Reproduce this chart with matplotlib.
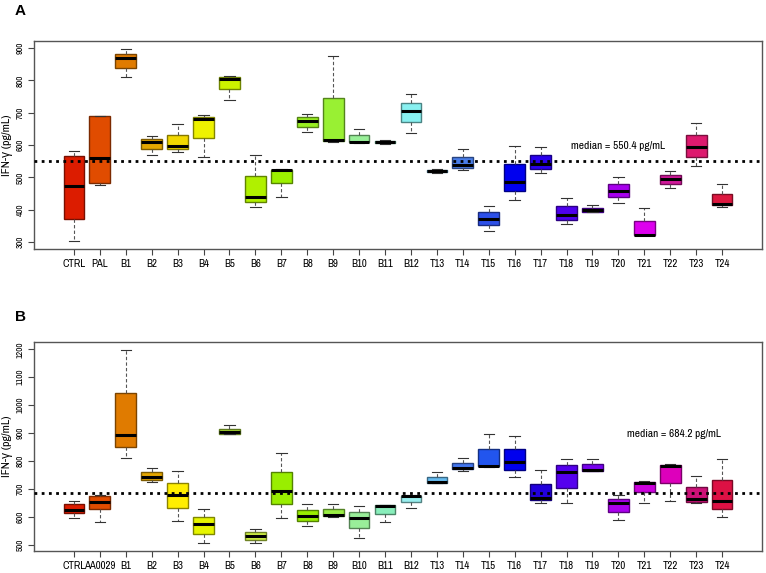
import matplotlib
matplotlib.use('Agg')
import matplotlib.pyplot as plt
from matplotlib import colors as mcolors

NARROW = ['Liberation Sans Narrow', 'Nimbus Sans Narrow', 'Arial Narrow', 'Archivo Narrow',
          'Liberation Sans', 'DejaVu Sans']
plt.rcParams['font.family'] = NARROW

# ---------------- Panel A data ----------------
labels_a = ['CTRL', 'PAL', 'B1', 'B2', 'B3', 'B4', 'B5', 'B6', 'B7', 'B8', 'B9', 'B10', 'B11', 'B12',
            'T13', 'T14', 'T15', 'T16', 'T17', 'T18', 'T19', 'T20', 'T21', 'T22', 'T23', 'T24']
lo_a  = [303, 477, 809, 568, 577, 562, 738, 409, 438, 640, 609, 607, 603, 638,
         513, 522, 333, 431, 512, 356, 393, 420, 321, 467, 535, 408]
q1_a  = [372, 482, 838, 589, 587, 621, 772, 424, 482, 657, 613, 608, 606, 670,
         517, 530, 352, 457, 526, 369, 393, 439, 321, 479, 564, 413]
med_a = [474, 561, 868, 609, 597, 680, 805, 438, 522, 673, 616, 609, 609, 704,
         521, 539, 372, 484, 540, 385, 398, 459, 323, 494, 595, 419]
q3_a  = [567, 689, 882, 620, 632, 687, 811, 503, 524, 686, 744, 630, 613, 731,
         523, 564, 393, 540, 568, 410, 405, 479, 365, 506, 631, 449]
hi_a  = [581, 691, 897, 629, 666, 694, 814, 570, 527, 697, 874, 650, 616, 757,
         525, 587, 410, 598, 595, 435, 414, 500, 405, 519, 667, 479]
median_a = 550.4

# ---------------- Panel B data ----------------
labels_b = ['CTRL', 'AA0029', 'B1', 'B2', 'B3', 'B4', 'B5', 'B6', 'B7', 'B8', 'B9', 'B10', 'B11', 'B12',
            'T13', 'T14', 'T15', 'T16', 'T17', 'T18', 'T19', 'T20', 'T21', 'T22', 'T23', 'T24']
lo_b  = [595, 580, 809, 724, 584, 506, 897, 505, 597, 567, 600, 524, 580, 633,
         721, 764, 778, 742, 649, 649, 763, 588, 651, 657, 649, 600]
q1_b  = [612, 627, 849, 733, 631, 540, 898, 518, 645, 584, 603, 560, 609, 652,
         722, 770, 781, 768, 659, 704, 764, 618, 687, 720, 654, 628]
med_b = [625, 654, 893, 743, 678, 574, 904, 531, 692, 602, 607, 597, 639, 674,
         726, 776, 783, 797, 666, 762, 769, 649, 722, 783, 664, 656]
q3_b  = [644, 673, 1044, 760, 720, 600, 916, 544, 761, 625, 627, 617, 641, 676,
         744, 794, 842, 842, 717, 785, 789, 663, 726, 787, 706, 731]
hi_b  = [655, 679, 1196, 775, 763, 627, 928, 558, 830, 647, 645, 637, 643, 678,
         762, 811, 898, 889, 768, 807, 807, 678, 729, 789, 747, 807]
median_b = 684.2

colors_a = ['#DC1C00', '#E04C00', '#E07B00', '#E4A600', '#F2D800', '#EEF200', '#CCF200', '#B0F000',
            '#9CF000', '#99EE22', '#99F033', '#99F099', '#77EEBB', '#88F0F0',
            '#66BBEE', '#4A7EE8', '#2D50E8', '#0000EE', '#2A00EE', '#4E00EE', '#7300EE',
            '#A800EE', '#DD00EE', '#D0189A', '#DD1A6E', '#DD1840']
colors_b = ['#DC1C00', '#E04C00', '#E07B00', '#E4A600', '#FFEE00', '#E6F500', '#AADD33', '#CCEE44',
            '#99EE00', '#99EE00', '#99EE44', '#99EE99', '#88EEBB', '#99EEEE',
            '#66BBEE', '#4477EE', '#2255EE', '#0000EE', '#2200DD', '#5500EE', '#7700EE',
            '#AA00EE', '#CC00DD', '#DD00BB', '#CC1177', '#DD1144']


def dark(c, f=0.55):
    r, g, b = mcolors.to_rgb(c)
    return (r * f, g * f, b * f)


def draw(ax, labels, lo, q1, med, q3, hi, cols, ylim, yticks, mval, txt_xy):
    n = len(labels)
    stats = [dict(whislo=a, q1=b, med=c, q3=d, whishi=e, label=l)
             for a, b, c, d, e, l in zip(lo, q1, med, q3, hi, labels)]
    bp = ax.bxp(stats, positions=list(range(1, n + 1)), widths=0.8, capwidths=0.4,
                showfliers=False, patch_artist=True,
                whiskerprops=dict(color='#555555', lw=0.8, ls=(0, (3, 2))),
                capprops=dict(color='#333333', lw=0.8),
                medianprops=dict(color='black', lw=2.2, solid_capstyle='butt'),
                boxprops=dict(lw=1.0))
    for patch, c in zip(bp['boxes'], cols):
        patch.set_facecolor(c)
        patch.set_edgecolor(dark(c))
    ax.axhline(mval, color='black', lw=2.0, ls=(0, (1, 1.6)), zorder=5)
    ax.text(txt_xy[0], txt_xy[1], 'median = %.1f pg/mL' % mval, ha='center', va='center', fontsize=8.2)
    ax.set_xlim(-0.54, n + 1.54)
    ax.set_ylim(*ylim)
    ax.set_yticks(yticks)
    ax.set_xticks(list(range(1, n + 1)))
    ax.set_xticklabels(labels, fontsize=7.8)
    ax.tick_params(axis='x', length=4, width=0.8, color='#444444', pad=3.5)
    ax.tick_params(axis='y', length=4, width=0.8, color='#444444', pad=3, labelsize=6.5, labelrotation=90)
    for t in ax.get_yticklabels():
        t.set_va('center')
    for s in ax.spines.values():
        s.set_color('#555555')
        s.set_linewidth(1.0)
    ax.set_ylabel('IFN-\u03b3 (pg/mL)', fontsize=8.5)
    ax.yaxis.set_label_coords(-0.0295, 0.5)


fig = plt.figure(figsize=(7.66, 5.73), dpi=100)
axA = fig.add_axes([34 / 766, 1 - 249 / 573, 728 / 766, 208 / 573])
axB = fig.add_axes([34 / 766, 1 - 550.7 / 573, 728 / 766, 208.4 / 573])

draw(axA, labels_a, lo_a, q1_a, med_a, q3_a, hi_a, colors_a, (278.3, 921.6),
     [300, 400, 500, 600, 700, 800, 900], median_a, (22.0, 597))
draw(axB, labels_b, lo_b, q1_b, med_b, q3_b, hi_b, colors_b, (478.5, 1225),
     [500, 600, 700, 800, 900, 1000, 1100, 1200], median_b, (24.15, 896))

fig.text(20 / 766, 1 - 11 / 573, 'A', fontsize=11, fontweight='bold', ha='center', va='center',
         family=['Liberation Sans', 'DejaVu Sans'])
fig.text(20 / 766, 1 - 317 / 573, 'B', fontsize=11, fontweight='bold', ha='center', va='center',
         family=['Liberation Sans', 'DejaVu Sans'])

fig.savefig('out.png', dpi=100)
